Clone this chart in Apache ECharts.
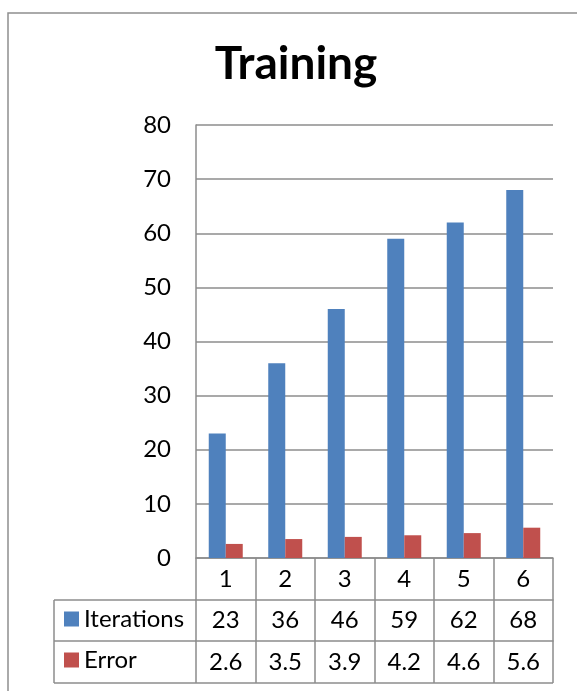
<!DOCTYPE html>
<html>
<head>
<meta charset="utf-8">
<script src="https://cdn.jsdelivr.net/npm/echarts@6/dist/echarts.min.js"></script>
<style>
html,body{margin:0;padding:0;background:#fff;}
#chart{width:577px;height:691px;}
</style>
</head>
<body>
<div id="chart"></div>
<script>
const categories = ['1', '2', '3', '4', '5', '6'];
const iterations = [23, 36, 46, 59, 62, 68];
const errors = [2.6, 3.5, 3.9, 4.2, 4.6, 5.6];
const yTicks = [0, 10, 20, 30, 40, 50, 60, 70, 80];

const FONT = 'Lato';
const FS = 24;
const GRID_COLOR = '#8c8c8c';
const BLUE = '#4F81BD';
const RED = '#C0504D';

const gridLeft = 196, gridRight = 553, gridTop = 125, gridBottom = 558;
const rowH1 = 42, rowH2 = 41, rowH3 = 42;
const tableLeft = 54;

const chart = echarts.init(document.getElementById('chart'), null, {renderer: 'canvas'});

function tableAxis(offset, tickLen, fmt) {
  return {
    type: 'category',
    data: categories,
    position: 'bottom',
    offset: offset,
    axisLine: {show: true, lineStyle: {color: GRID_COLOR, width: 1.5}},
    axisTick: {show: true, length: tickLen, lineStyle: {color: GRID_COLOR, width: 1.5}},
    axisLabel: {
      margin: tickLen / 2,
      verticalAlign: 'middle',
      fontFamily: FONT, fontSize: FS, color: '#000',
      formatter: fmt
    },
    splitLine: {show: false}
  };
}

function legendRow(name, top) {
  return {
    orient: 'vertical',
    left: 64,
    top: top,
    padding: 0,
    itemWidth: 15,
    itemHeight: 15,
    icon: 'rect',
    textStyle: {fontFamily: FONT, fontSize: FS, color: '#000'},
    data: [name]
  };
}

const tableBottom = gridBottom + rowH1 + rowH2 + rowH3;
const lineStyle = {stroke: GRID_COLOR, lineWidth: 1.5};

chart.setOption({
  animation: false,
  backgroundColor: '#fff',
  title: {
    text: 'Training',
    left: 296,
    textAlign: 'center',
    top: 41,
    padding: 0,
    textStyle: {fontFamily: FONT, fontSize: 46, fontWeight: 'bold', color: '#000'}
  },
  legend: [legendRow('Iterations', 607), legendRow('Error', 648)],
  grid: {left: gridLeft, right: 577 - gridRight, top: gridTop, bottom: 691 - gridBottom, containLabel: false},
  xAxis: [
    tableAxis(0, rowH1, v => v),
    tableAxis(rowH1, rowH2, (v, i) => String(iterations[i])),
    tableAxis(rowH1 + rowH2, rowH3, (v, i) => String(errors[i]))
  ],
  yAxis: {
    type: 'value',
    min: 0, max: 80, interval: 10,
    axisLine: {show: true, lineStyle: {color: GRID_COLOR, width: 1.5}},
    axisTick: {show: false},
    axisLabel: {margin: 25, fontFamily: FONT, fontSize: FS, color: '#000',
      formatter: v => yTicks.includes(v) ? String(v) : ''},
    splitLine: {show: true, lineStyle: {color: GRID_COLOR, width: 1.5}}
  },
  series: [
    {name: 'Iterations', type: 'bar', data: iterations, barWidth: 17, barGap: '0%', itemStyle: {color: BLUE}},
    {name: 'Error', type: 'bar', data: errors, barWidth: 17, barGap: '0%', itemStyle: {color: RED}}
  ],
  graphic: [
    {type: 'rect', shape: {x: 8, y: 13, width: 600, height: 700}, style: {fill: 'none', stroke: '#8f8f8f', lineWidth: 1.5}, silent: true},
    {type: 'line', shape: {x1: tableLeft, y1: gridBottom + rowH1, x2: gridLeft, y2: gridBottom + rowH1}, style: lineStyle},
    {type: 'line', shape: {x1: tableLeft, y1: gridBottom + rowH1 + rowH2, x2: gridLeft, y2: gridBottom + rowH1 + rowH2}, style: lineStyle},
    {type: 'line', shape: {x1: tableLeft, y1: tableBottom, x2: gridRight, y2: tableBottom}, style: lineStyle},
    {type: 'line', shape: {x1: tableLeft, y1: gridBottom + rowH1, x2: tableLeft, y2: tableBottom}, style: lineStyle}
  ]
});
</script>
</body>
</html>
